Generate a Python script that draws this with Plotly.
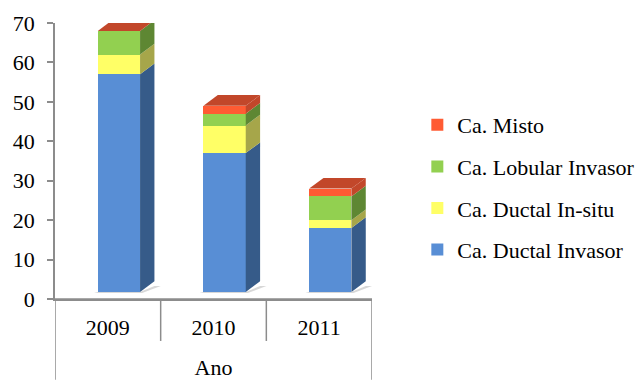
import plotly.graph_objects as go

# Cases per year, by carcinoma type
years = ["2009", "2010", "2011"]
ductal_invasor = [57, 37, 18]
ductal_insitu = [5, 7, 2]
lobular_invasor = [6, 3, 6]
misto = [0, 2, 2]

series_names = ["Ca. Ductal Invasor", "Ca. Ductal In-situ", "Ca. Lobular Invasor", "Ca. Misto"]
series_values = [ductal_invasor, ductal_insitu, lobular_invasor, misto]
front_colors = ["#588ED5", "#FFFF66", "#92D050", "#FF5B33"]
side_colors = ["#365B89", "#A6A64A", "#5E8733", "#C2472A"]
top_color = "#C2472A"

FONT = "Liberation Serif"
FS = 22
AXIS_GREY = "#8C8C8C"

# bar geometry (category units / value units)
BAR_OFFSET = -0.095
BAR_WIDTH = 0.40
DEPTH_X = 0.136
DEPTH_Y = 2.72
FLOOR = 1.78  # raised front edge of the 3-D floor

xs = list(range(len(years)))

fig = go.Figure()
n = len(series_names)
for k, (name, vals, col) in enumerate(zip(series_names, series_values, front_colors)):
    fig.add_trace(go.Bar(
        x=xs, y=vals, name=name, legendgroup=name, legendrank=n - k,
        marker=dict(color=col, line=dict(width=0)),
        offset=BAR_OFFSET, width=BAR_WIDTH,
        hoverinfo="name+y",
    ))

shapes = []
# floor strip in front of the bars, with the baseline redrawn on top
shapes.append(dict(
    type="rect", xref="x", yref="y", layer="above",
    x0=-0.49, x1=2.49, y0=0, y1=FLOOR,
    fillcolor="white", line=dict(width=0),
))
shapes.append(dict(
    type="line", xref="x", yref="y", layer="above",
    x0=-0.5, x1=2.5, y0=0, y1=0,
    line=dict(color=AXIS_GREY, width=1.5),
))
# oblique side and top faces computed from the stacked values
for i, x in enumerate(xs):
    xl = x + BAR_OFFSET
    xr = xl + BAR_WIDTH
    # soft floor shadow
    shapes.append(dict(
        type="path", xref="x", yref="y",
        path=f"M{xl - 0.035},{FLOOR - 0.25} L{xr + 0.02},{FLOOR - 0.25} "
             f"L{xr + DEPTH_X + 0.06},{FLOOR + DEPTH_Y * 0.55} "
             f"L{xr + DEPTH_X},{FLOOR + DEPTH_Y * 0.55} L{xr},{FLOOR} L{xl},{FLOOR} Z",
        fillcolor="rgba(140,140,140,0.35)", line=dict(width=0),
    ))
    base = 0.0
    for vals, scol in zip(series_values, side_colors):
        top = base + vals[i]
        if vals[i] > 0:
            y0 = max(base, FLOOR)
            shapes.append(dict(
                type="path", xref="x", yref="y",
                path=f"M{xr},{y0} L{xr + DEPTH_X},{y0 + DEPTH_Y} "
                     f"L{xr + DEPTH_X},{top + DEPTH_Y} L{xr},{top} Z",
                fillcolor=scol, line=dict(width=0),
            ))
        base = top
    shapes.append(dict(
        type="path", xref="x", yref="y",
        path=f"M{xl},{base} L{xl + DEPTH_X},{base + DEPTH_Y} "
             f"L{xr + DEPTH_X},{base + DEPTH_Y} L{xr},{base} Z",
        fillcolor=top_color, line=dict(width=0),
    ))

# category separators below the axis
for b in [-0.5, 0.5, 1.5, 2.5]:
    outer = b in (-0.5, 2.5)
    shapes.append(dict(
        type="line", xref="x", yref="paper",
        x0=b, x1=b, y0=0, y1=-0.293 if outer else -0.152,
        line=dict(color=AXIS_GREY, width=1.5),
    ))

fig.update_layout(
    width=642, height=380,
    margin=dict(l=55, r=270, t=23, b=81, autoexpand=False),
    paper_bgcolor="white", plot_bgcolor="white",
    barmode="stack",
    font=dict(family=FONT, size=FS, color="black"),
    showlegend=True,
    legend=dict(
        traceorder="grouped", tracegroupgap=10,
        x=1.143, xanchor="left", y=0.404, yanchor="middle",
        font=dict(family=FONT, size=FS, color="black"),
        bgcolor="rgba(0,0,0,0)",
    ),
    xaxis=dict(
        range=[-0.5, 2.5], tickvals=xs, ticktext=years,
        showgrid=False, zeroline=False, ticks="",
        showline=True, linecolor=AXIS_GREY, linewidth=1.5,
        ticklabelstandoff=8, automargin=False,
        title=dict(text="Ano", standoff=25, font=dict(family=FONT, size=FS)),
        fixedrange=True,
    ),
    yaxis=dict(
        range=[0, 70], dtick=10, showgrid=False, zeroline=False,
        ticks="outside", ticklen=6, tickcolor=AXIS_GREY, tickwidth=1.5,
        showline=True, linecolor=AXIS_GREY, linewidth=1.5,
        ticklabelstandoff=8, automargin=False,
        fixedrange=True,
    ),
    shapes=shapes,
)

fig.write_html("out.html")
